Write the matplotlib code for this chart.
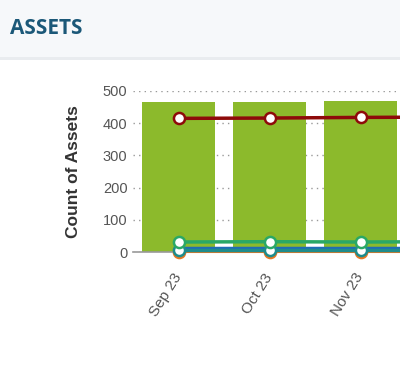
import matplotlib
matplotlib.use("Agg")
from matplotlib import pyplot as plt
from matplotlib.patches import Rectangle
import numpy as np

months = ["Sep 23", "Oct 23", "Nov 23", "Dec 23"]
total_assets = [465, 466, 470, 472]
series_red = [415, 416, 418, 419]
series_green = [31, 32, 31, 32]
series_blue = [13, 13, 13, 13]
series_teal = [5, 5, 5, 5]
series_orange = [0, 0, 0, 0]

plt.rcParams['font.family'] = ['Liberation Sans', 'DejaVu Sans']

fig = plt.figure(figsize=(4.0, 3.68), dpi=100)

# header band
fig.patches.append(Rectangle((0, 1 - 57 / 368), 1, 57 / 368, transform=fig.transFigure,
                             facecolor="#f6f8fa", edgecolor="none", zorder=0))
fig.patches.append(Rectangle((0, 1 - 60 / 368), 1, 3 / 368, transform=fig.transFigure,
                             facecolor="#e9ecef", edgecolor="none", zorder=0))
fig.text(10 / 400, 1 - 29 / 368, "ASSETS", fontsize=15, fontweight="bold",
         color="#1b5878", family=["Open Sans", "DejaVu Sans"], va="center", ha="left")

ax = fig.add_axes([133 / 400, 116 / 368, 364 / 400, 161 / 368])
x = np.arange(len(months))

ax.bar(x, total_assets, width=0.8, color="#8cba2c", zorder=2)

# (values, colour, markers?, line width)
line_specs = [
    (series_orange, "#e87722", True, 1.5),
    (series_blue, "#1f6db5", False, 2.5),
    (series_teal, "#1e8c8c", True, 2.5),
    (series_green, "#2aa866", True, 2.5),
    (series_red, "#8e0a0a", True, 2.5),
]
for vals, col, marks, lw in line_specs:
    ax.plot(x, vals, color=col, lw=lw, marker="o" if marks else None, markersize=8,
            markerfacecolor="white", markeredgecolor=col, markeredgewidth=1.8,
            zorder=3, clip_on=False)

ax.set_xlim(-0.5, len(months) - 0.5)
ax.set_ylim(0, 500)
ax.set_yticks([0, 100, 200, 300, 400, 500])
ax.yaxis.grid(True, linestyle=(0, (1, 3)), color="#999999", lw=1, zorder=0)
ax.set_axisbelow(True)

for s in ["top", "right", "left"]:
    ax.spines[s].set_visible(False)
ax.spines["bottom"].set_color("#999999")
ax.spines["bottom"].set_linewidth(1.2)

ax.tick_params(axis="both", length=0, labelcolor="#555555")
ax.tick_params(axis="y", pad=4, labelsize=10.5)
ax.tick_params(axis="x", pad=16, labelsize=11)
# only the first three months fit inside the visible card
ax.set_xticks(x[:3])
ax.set_xticklabels(months[:3], rotation=58, ha="right", va="center", rotation_mode="anchor")

ax.set_ylabel("Count of Assets", fontsize=12.5, fontweight="bold", color="#333333", labelpad=16)

fig.savefig("out.png", dpi=100)
